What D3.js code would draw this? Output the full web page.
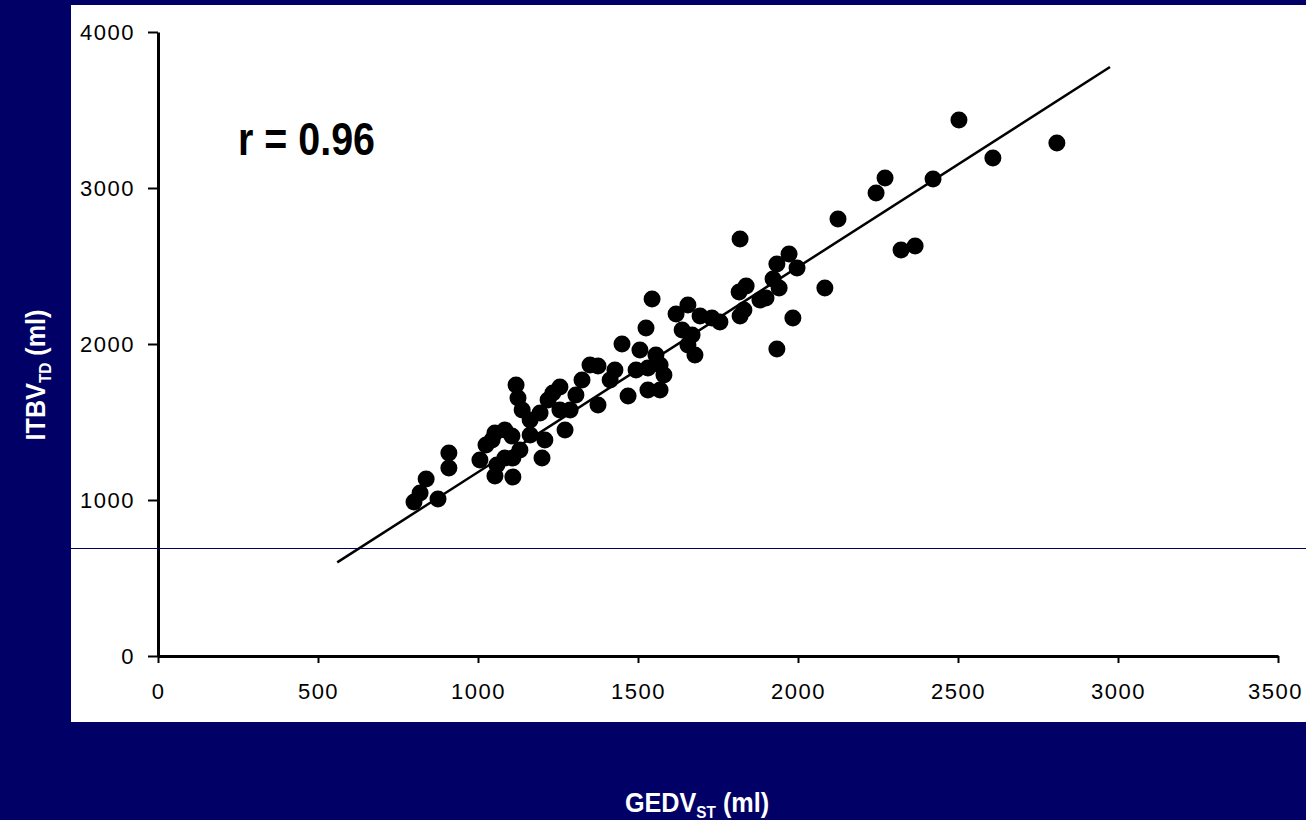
<!DOCTYPE html>
<html>
<head>
<meta charset="utf-8">
<script src="https://cdn.jsdelivr.net/npm/d3@7"></script>
<style>
  body { margin: 0; background: #000066; }
  svg { display: block; }
</style>
</head>
<body>
<div id="chart"></div>
<script>
var width = 1306;
var height = 820;

// GEDV (x) and ITBV (y)
var gedv = [2503, 2609, 2809, 2422, 2272, 2244, 2125, 2322, 2366, 1819,
  1972, 1934, 1922, 1997, 1941, 2084, 1838, 1816, 1900, 1881,
  1831, 1819, 1984, 1934, 1544, 1656, 1619, 1694, 1756, 1731,
  1638, 1669, 1656, 1678, 1525, 1450, 1506, 1556, 1569, 1581,
  1531, 1569, 1531, 1494, 1469, 1413, 1428, 1375, 1350, 1325,
  1306, 1375, 1256, 1234, 1288, 1219, 1194, 1163, 1272, 1209,
  1131, 1200, 1119, 1125, 1138, 1084, 1053, 1044, 1106, 1163,
  1025, 1006, 1059, 1053, 1109, 1084, 1109, 909, 909, 838,
  819, 800, 875, 1256];
var itbv = [3436, 3192, 3288, 3058, 3064, 2968, 2801, 2603, 2628, 2673,
  2577, 2513, 2417, 2487, 2359, 2359, 2372, 2333, 2295, 2282,
  2218, 2179, 2167, 1968, 2288, 2250, 2192, 2179, 2141, 2167,
  2090, 2058, 1994, 1929, 2103, 2000, 1962, 1929, 1865, 1801,
  1846, 1705, 1705, 1833, 1667, 1769, 1833, 1859, 1865, 1769,
  1673, 1609, 1724, 1686, 1577, 1641, 1558, 1513, 1449, 1385,
  1321, 1269, 1737, 1654, 1577, 1449, 1429, 1385, 1410, 1417,
  1353, 1256, 1224, 1154, 1147, 1269, 1269, 1301, 1205, 1135,
  1045, 987, 1006, 1577];

var fitX = [560, 2975];
var fitY = [600, 3776];
var guideY = 692;

var xTicks = [0, 500, 1000, 1500, 2000, 2500, 3000, 3500];
var yTicks = [0, 1000, 2000, 3000, 4000];

var svg = d3.select("#chart").append("svg")
  .attr("width", width)
  .attr("height", height);

svg.append("rect")
  .attr("width", width).attr("height", height)
  .attr("fill", "#000066");

// white panel of the scanned figure
svg.append("rect")
  .attr("x", 71).attr("y", 5)
  .attr("width", width - 71).attr("height", 717)
  .attr("fill", "#ffffff");

var x = d3.scaleLinear().domain([0, 3500]).range([158, 1278]);
var y = d3.scaleLinear().domain([0, 4000]).range([656, 32]);

var tickFont = "Liberation Sans, Arial, sans-serif";

var xAxis = svg.append("g")
  .attr("transform", "translate(0," + y(0) + ")")
  .call(d3.axisBottom(x).tickValues(xTicks).tickFormat(d3.format("d"))
    .tickSize(7).tickSizeOuter(0).tickPadding(20));

var yAxis = svg.append("g")
  .attr("transform", "translate(" + x(0) + ",0)")
  .call(d3.axisLeft(y).tickValues(yTicks).tickFormat(d3.format("d"))
    .tickSize(10).tickSizeOuter(0).tickPadding(13));

[xAxis, yAxis].forEach(function(g) {
  g.select(".domain").attr("stroke", "#000").attr("stroke-width", 3);
  g.selectAll(".tick line").attr("stroke", "#000").attr("stroke-width", 2);
  g.selectAll(".tick text")
    .attr("fill", "#000")
    .style("font-family", tickFont)
    .style("font-size", "22px")
    .style("letter-spacing", "1.5px");
});

// last x label sits against the right edge
xAxis.selectAll(".tick text").filter(function(d) { return d === 3500; })
  .attr("dx", -3);

// thin horizontal line across the panel
var gy = Math.round(y(guideY)) + 0.5;
svg.append("line")
  .attr("x1", 71).attr("x2", width)
  .attr("y1", gy).attr("y2", gy)
  .attr("stroke", "#000066")
  .attr("stroke-width", 1)
  .attr("shape-rendering", "crispEdges");

// regression line
var line = d3.line()
  .x(function(d, i) { return x(fitX[i]); })
  .y(function(d) { return y(d); });

svg.append("path")
  .attr("d", line(fitY))
  .attr("stroke", "#000")
  .attr("stroke-width", 2.5)
  .attr("fill", "none");

svg.append("g").selectAll("circle")
  .data(gedv)
  .enter().append("circle")
  .attr("cx", function(d) { return x(d); })
  .attr("cy", function(d, i) { return y(itbv[i]); })
  .attr("r", 8.5)
  .attr("fill", "#000");

svg.append("text")
  .attr("x", 238).attr("y", 155)
  .attr("textLength", 137)
  .attr("lengthAdjust", "spacingAndGlyphs")
  .style("font-family", tickFont)
  .style("font-weight", "bold")
  .style("font-size", "47px")
  .attr("fill", "#000")
  .text("r = 0.96");

// axis titles
var xt = svg.append("text")
  .attr("transform", "translate(697,812) scale(0.9,1)")
  .attr("text-anchor", "middle")
  .style("font-family", tickFont)
  .style("font-weight", "bold")
  .style("font-size", "28px")
  .attr("fill", "#fff");
xt.append("tspan").text("GEDV");
xt.append("tspan").attr("dy", 6).style("font-size", "17px").text("ST");
xt.append("tspan").attr("dy", -6).text(" (ml)");

var yt = svg.append("text")
  .attr("transform", "translate(45,375) rotate(-90) scale(0.9,1)")
  .attr("text-anchor", "middle")
  .style("font-family", tickFont)
  .style("font-weight", "bold")
  .style("font-size", "28px")
  .attr("fill", "#fff");
yt.append("tspan").text("ITBV");
yt.append("tspan").attr("dy", 6).style("font-size", "17px").text("TD");
yt.append("tspan").attr("dy", -6).text(" (ml)");
</script>
</body>
</html>
